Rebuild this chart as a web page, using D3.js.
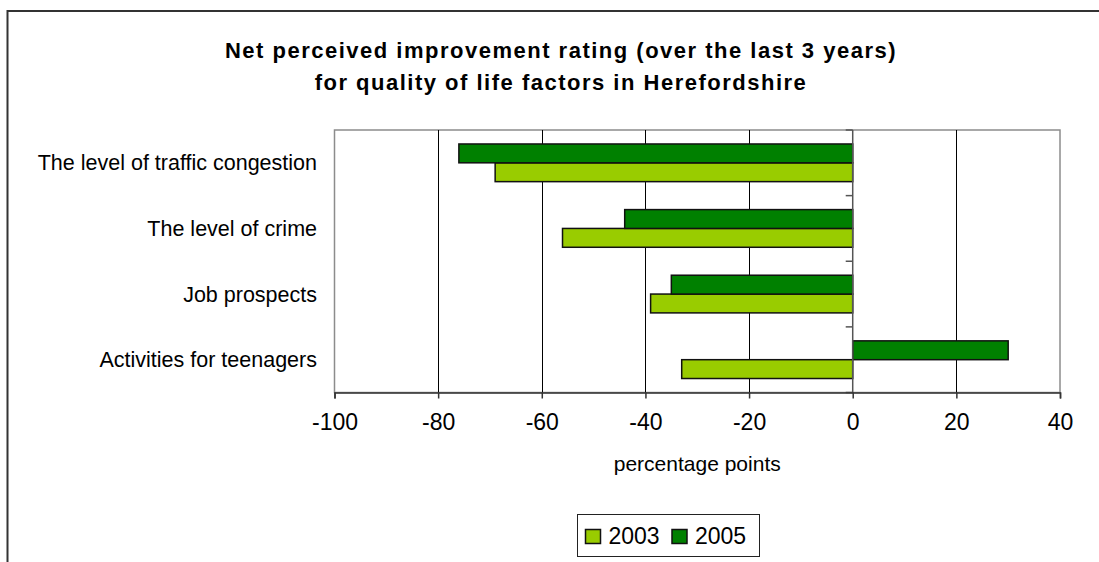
<!DOCTYPE html>
<html>
<head>
<meta charset="utf-8">
<script src="https://cdn.jsdelivr.net/npm/d3@7"></script>
<style>
body { margin: 0; background: #fff; }
text { font-family: "Liberation Sans", Arial, sans-serif; fill: #000; }
</style>
</head>
<body>
<script>
// Chart data
var categories = ["The level of traffic congestion", "The level of crime", "Job prospects", "Activities for teenagers"];
var years = ["2003", "2005"];
var values2003 = [-69, -56, -39, -33];
var values2005 = [-76, -44, -35, 30];
var xTicks = [-100, -80, -60, -40, -20, 0, 20, 40];
var colors = {"2003": "#99cc00", "2005": "#008000"};
//////////////////////////////

var width = 1099;
var height = 562;
var plot = {left: 334.5, right: 1060, top: 130, bottom: 392.5};

var rows = categories.map(function (c, i) {
	return {cat: c, "2003": values2003[i], "2005": values2005[i]};
});

var svg = d3.select("body")
	.append("svg")
	.attr("width", width)
	.attr("height", height);

// outer chart frame (only left and top edges are visible)
svg.append("rect")
	.attr("x", 7.5).attr("y", 11)
	.attr("width", width + 20).attr("height", height + 20)
	.attr("fill", "none")
	.attr("stroke", "#333")
	.attr("stroke-width", 2);

var x = d3.scaleLinear()
	.domain([-100, 40])
	.range([plot.left, plot.right]);

var y = d3.scaleBand()
	.domain(categories)
	.range([plot.top, plot.bottom])
	.paddingInner(0.426)
	.paddingOuter(0.213);

// 2005 sits above 2003 inside each group
var ySub = d3.scaleBand()
	.domain(["2005", "2003"])
	.range([0, y.bandwidth()]);

// plot area border
svg.append("rect")
	.attr("x", plot.left).attr("y", plot.top)
	.attr("width", plot.right - plot.left)
	.attr("height", plot.bottom - plot.top)
	.attr("fill", "none")
	.attr("stroke", "#8c8c8c")
	.attr("stroke-width", 1.5);

// vertical gridlines
svg.selectAll("line.grid")
	.data(xTicks.filter(function (d) { return d > -100 && d < 40 && d != 0; }))
	.enter()
	.append("line")
	.attr("class", "grid")
	.attr("x1", function (d) { return Math.round(x(d)) + 0.5; })
	.attr("x2", function (d) { return Math.round(x(d)) + 0.5; })
	.attr("y1", plot.top)
	.attr("y2", plot.bottom)
	.attr("stroke", "#000")
	.attr("stroke-width", 1);

// bars
var groups = svg.selectAll("g.cat")
	.data(rows)
	.enter()
	.append("g")
	.attr("class", "cat")
	.attr("transform", function (d) { return "translate(0," + y(d.cat) + ")"; });

groups.selectAll("rect")
	.data(function (d) { return years.map(function (k) { return {year: k, value: d[k]}; }); })
	.enter()
	.append("rect")
	.attr("x", function (d) { return x(Math.min(0, d.value)); })
	.attr("y", function (d) { return ySub(d.year); })
	.attr("width", function (d) { return Math.abs(x(d.value) - x(0)); })
	.attr("height", ySub.bandwidth())
	.attr("fill", function (d) { return colors[d.year]; })
	.attr("stroke", "#111")
	.attr("stroke-width", 1.5);

// zero axis with category ticks
svg.append("line")
	.attr("x1", x(0)).attr("x2", x(0))
	.attr("y1", plot.top).attr("y2", plot.bottom)
	.attr("stroke", "#555")
	.attr("stroke-width", 1.5);

var step = y.step();
svg.selectAll("line.ytick")
	.data(d3.range(categories.length + 1))
	.enter()
	.append("line")
	.attr("class", "ytick")
	.attr("x1", x(0) - 7).attr("x2", x(0))
	.attr("y1", function (i) { return plot.top + i * step; })
	.attr("y2", function (i) { return plot.top + i * step; })
	.attr("stroke", "#555")
	.attr("stroke-width", 1.5);

// category labels
svg.selectAll("text.cat")
	.data(categories)
	.enter()
	.append("text")
	.attr("class", "cat")
	.attr("x", 317)
	.attr("y", function (d) { return y(d) + y.bandwidth() / 2 + 7.5; })
	.attr("text-anchor", "end")
	.attr("font-size", "21.5px")
	.text(function (d) { return d; });

// bottom axis
var xAxis = d3.axisBottom(x)
	.tickValues(xTicks)
	.tickSize(6)
	.tickPadding(15)
	.tickFormat(d3.format("d"));

var gx = svg.append("g")
	.attr("transform", "translate(0," + plot.bottom + ")")
	.call(xAxis);
gx.select(".domain").attr("stroke", "#333").attr("stroke-width", 1.5);
gx.selectAll(".tick line").attr("stroke", "#333").attr("stroke-width", 1.5);
gx.selectAll(".tick text")
	.attr("font-family", "Liberation Sans, Arial, sans-serif")
	.attr("font-size", "23px")
	.attr("fill", "#000")
	.text(function (d) { return d < 0 ? "-" + Math.abs(d) : d; });

// axis title
svg.append("text")
	.attr("x", (plot.left + plot.right) / 2)
	.attr("y", 471)
	.attr("text-anchor", "middle")
	.attr("font-size", "21px")
	.text("percentage points");

// chart title
var title = ["Net perceived improvement rating (over the last 3 years)", "for quality of life factors in Herefordshire"];
svg.selectAll("text.title")
	.data(title)
	.enter()
	.append("text")
	.attr("class", "title")
	.attr("x", 561)
	.attr("y", function (d, i) { return 58 + i * 32; })
	.attr("text-anchor", "middle")
	.attr("font-size", "22px")
	.attr("font-weight", "bold")
	.attr("letter-spacing", "1.5px")
	.text(function (d) { return d; });

// legend
var legend = svg.append("g").attr("transform", "translate(577.5,514.5)");
legend.append("rect")
	.attr("width", 182).attr("height", 42)
	.attr("fill", "#fff")
	.attr("stroke", "#222")
	.attr("stroke-width", 1);

var items = legend.selectAll("g.item")
	.data(years)
	.enter()
	.append("g")
	.attr("class", "item")
	.attr("transform", function (d, i) { return "translate(" + (8 + i * 86.5) + ",15)"; });
items.append("rect")
	.attr("width", 15).attr("height", 14)
	.attr("fill", function (d) { return colors[d]; })
	.attr("stroke", "#111")
	.attr("stroke-width", 1.5);
items.append("text")
	.attr("x", 23)
	.attr("y", 14)
	.attr("font-size", "23px")
	.text(function (d) { return d; });
</script>
</body>
</html>
